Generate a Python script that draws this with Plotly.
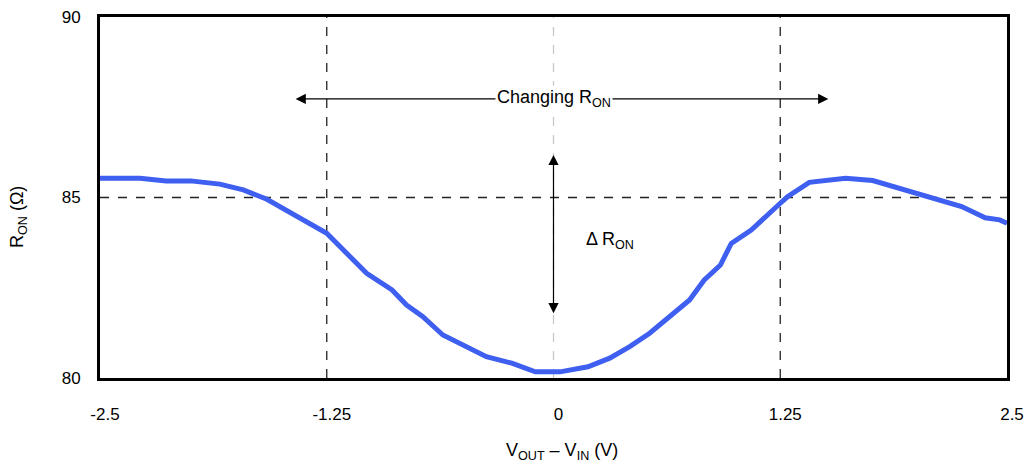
import plotly.graph_objects as go

# Curve data: V_OUT - V_IN (V) vs R_ON (ohm)
v_diff = [-2.5, -2.28, -2.135, -2.0, -1.84, -1.71, -1.58, -1.40, -1.25, -1.03, -0.89, -0.81,
          -0.72, -0.61, -0.37, -0.23, -0.10, 0.036, 0.19, 0.31, 0.42, 0.53, 0.64, 0.75,
          0.83, 0.92, 0.98, 1.09, 1.25, 1.29, 1.41, 1.61, 1.76, 1.91, 2.13, 2.25, 2.38,
          2.46, 2.50]
r_on = [85.53, 85.53, 85.46, 85.46, 85.37, 85.21, 84.95, 84.42, 84.01, 82.90, 82.44, 82.02,
        81.70, 81.19, 80.59, 80.41, 80.17, 80.17, 80.31, 80.55, 80.87, 81.24, 81.70, 82.16,
        82.71, 83.13, 83.73, 84.10, 84.84, 85.02, 85.42, 85.53, 85.47, 85.25, 84.95, 84.75, 84.44,
        84.38, 84.29]

x_ticks = [-2.5, -1.25, 0, 1.25, 2.5]
x_tick_labels = ["-2.5", "-1.25", "0", "1.25", "2.5"]
y_ticks = [80, 85, 90]

ref_vlines_dark = [-1.25, 1.25]
ref_vline_light = [0]
ref_hline = [85]

changing_span = [-1.43, 1.515]
changing_y = 87.73
delta_span = [81.75, 86.18]
delta_x = 0.0
delta_label_pos = [0.17, 83.8]

x_title = "V<sub>OUT</sub> – V<sub>IN</sub> (V)"
y_title = "R<sub>ON</sub> (Ω)"

font_family = "Liberation Sans, Arial, sans-serif"

fig = go.Figure()
fig.add_trace(go.Scatter(
    x=v_diff, y=r_on, mode="lines",
    line=dict(color="#3F5FF0", width=5),
    showlegend=False, hoverinfo="skip",
))

shapes = []
for xv in ref_vlines_dark:
    shapes.append(dict(type="line", xref="x", yref="paper", x0=xv, x1=xv, y0=0, y1=1,
                       line=dict(color="#222222", width=1.3, dash="dash"), layer="below"))
for xv in ref_vline_light:
    shapes.append(dict(type="line", xref="x", yref="paper", x0=xv, x1=xv, y0=0, y1=1,
                       line=dict(color="#c8c8c8", width=1.3, dash="dash"), layer="below"))
for yv in ref_hline:
    shapes.append(dict(type="line", xref="paper", yref="y", x0=0, x1=1, y0=yv, y1=yv,
                       line=dict(color="#222222", width=1.3, dash="dash"), layer="below"))

annotations = [
    # horizontal double arrow
    dict(x=changing_span[1], y=changing_y, ax=changing_span[0], ay=changing_y,
         xref="x", yref="y", axref="x", ayref="y", text="", showarrow=True,
         arrowhead=2, startarrowhead=2, arrowside="end+start", arrowsize=1.7,
         startarrowsize=1.7, arrowwidth=1.2, arrowcolor="black"),
    dict(x=0, y=changing_y, xref="x", yref="y", text="Changing R<sub>ON</sub>",
         showarrow=False, bgcolor="white", borderpad=1,
         font=dict(size=18, color="black", family=font_family)),
    # vertical double arrow
    dict(x=delta_x, y=delta_span[1], ax=delta_x, ay=delta_span[0],
         xref="x", yref="y", axref="x", ayref="y", text="", showarrow=True,
         arrowhead=2, startarrowhead=2, arrowside="end+start", arrowsize=1.7,
         startarrowsize=1.7, arrowwidth=1.2, arrowcolor="black"),
    dict(x=delta_label_pos[0], y=delta_label_pos[1], xref="x", yref="y",
         text="Δ R<sub>ON</sub>", showarrow=False, xanchor="left",
         font=dict(size=18, color="black", family=font_family)),
    # axis titles
    dict(x=0.509, y=0, xref="paper", yref="paper", yshift=-73, yanchor="middle",
         text=x_title, showarrow=False,
         font=dict(size=18, color="black", family=font_family)),
    dict(x=0, y=0.446, xref="paper", yref="paper", xshift=-81, xanchor="center",
         yanchor="middle", textangle=-90, text=y_title, showarrow=False,
         font=dict(size=18, color="black", family=font_family)),
]

fig.update_layout(
    width=1026, height=463,
    margin=dict(l=100, r=19, t=17, b=85),
    plot_bgcolor="white", paper_bgcolor="white",
    font=dict(family=font_family, size=17, color="black"),
    shapes=shapes, annotations=annotations,
    xaxis=dict(range=[-2.5, 2.5], tickvals=x_ticks, ticktext=x_tick_labels,
               showgrid=False, zeroline=False, showline=True, linecolor="black",
               linewidth=3, mirror=True, ticks="", ticklabelstandoff=19,
               ticklabelshift=5, automargin=False, tickfont=dict(size=17)),
    yaxis=dict(range=[80, 90], tickvals=y_ticks,
               showgrid=False, zeroline=False, showline=True, linecolor="black",
               linewidth=3, mirror=True, ticks="", ticklabelstandoff=13,
               automargin=False, tickfont=dict(size=17)),
)

fig.write_html("out.html")
